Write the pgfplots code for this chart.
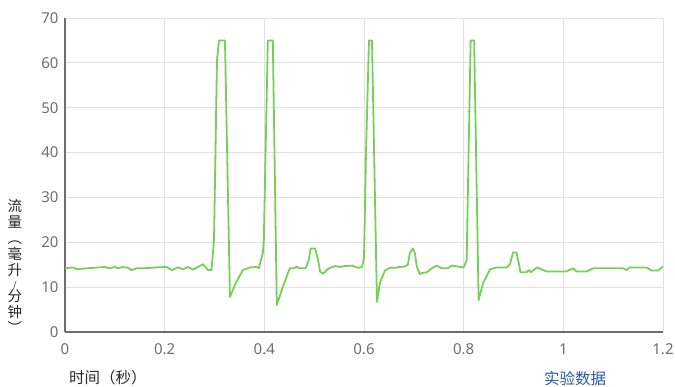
\documentclass[border=0pt]{standalone}
\usepackage{pgfplots}
\pgfplotsset{compat=1.18}
\usepackage{fontspec}
\setmainfont{Noto Sans}
\newfontfamily\cjk{Noto Sans CJK SC}
\definecolor{linegreen}{RGB}{118,208,88}
\definecolor{gridgray}{RGB}{224,224,224}
\definecolor{axisgray}{RGB}{110,110,110}
\definecolor{ticktext}{RGB}{110,110,110}
\definecolor{labtext}{RGB}{40,40,40}
\definecolor{legblue}{RGB}{40,90,170}
\begin{document}
\begin{tikzpicture}[x=1pt,y=1pt]
\useasboundingbox (0,0) rectangle (675,387);
\begin{axis}[
  at={(65pt,55pt)}, anchor=south west,
  scale only axis, width=598pt, height=314pt,
  xmin=0, xmax=1.2, ymin=0, ymax=70,
  axis x line*=bottom, axis y line*=left,
  axis line style={axisgray, line width=1.2pt, -},
  xtick={0,0.2,0.4,0.6,0.8,1,1.2},
  xticklabels={0,0.2,0.4,0.6,0.8,1,1.2},
  ytick={0,10,20,30,40,50,60,70},
  major tick length=0pt,
  grid=major,
  major grid style={gridgray, line width=0.8pt},
  tick label style={font=\fontsize{15}{17}\selectfont, text=ticktext},
  /pgf/number format/assume math mode=true,
  xticklabel style={yshift=-8pt},
  yticklabel style={xshift=-3pt},
  clip=false,
]
\addplot[linegreen, line width=1.8pt, line join=round] coordinates {
(0.000,14.2)(0.017,14.4)(0.023,14.0)(0.056,14.3)(0.080,14.5)(0.090,14.2)
(0.100,14.5)(0.106,14.2)(0.116,14.5)(0.126,14.3)(0.134,13.8)(0.144,14.2)
(0.156,14.2)(0.184,14.4)(0.204,14.5)(0.214,13.8)(0.227,14.4)(0.237,14.0)
(0.247,14.5)(0.257,13.9)(0.277,15.1)(0.287,13.8)(0.294,13.8)(0.299,20.5)
(0.305,60.6)(0.309,65)(0.321,65)(0.331,7.8)(0.343,11)(0.357,13.8)
(0.371,14.4)(0.385,14.5)(0.389,14.2)(0.397,17.6)(0.399,20.5)(0.407,65)
(0.417,65)(0.425,6)(0.437,10)(0.451,14.2)(0.459,14.2)(0.465,14.6)
(0.469,14.2)(0.483,14.2)(0.489,16)(0.493,18.6)(0.502,18.6)(0.508,16)
(0.512,13.4)(0.518,13)(0.526,13.9)(0.532,14.3)(0.542,14.7)(0.552,14.5)
(0.562,14.7)(0.576,14.8)(0.588,14.3)(0.596,14.5)(0.600,16.5)(0.604,40)
(0.610,65)(0.616,65)(0.626,6.7)(0.632,11)(0.642,13.7)(0.652,14.3)
(0.662,14.3)(0.672,14.5)(0.682,14.6)(0.688,15)(0.692,17.6)(0.698,18.6)
(0.702,17.6)(0.706,14.6)(0.712,12.9)(0.718,13.2)(0.726,13.3)(0.736,14.2)
(0.746,14.8)(0.756,14.2)(0.768,14.2)(0.776,14.8)(0.788,14.6)(0.800,14.4)
(0.806,16)(0.814,65)(0.821,65)(0.830,7.1)(0.839,10.9)(0.853,14.0)
(0.866,14.4)(0.886,14.4)(0.893,15.1)(0.899,17.7)(0.906,17.7)(0.911,15.1)
(0.914,13.3)(0.926,13.3)(0.931,13.8)(0.935,13.3)(0.947,14.4)(0.966,13.5)
(1.006,13.5)(1.020,14.2)(1.026,13.5)(1.047,13.5)(1.060,14.2)(1.120,14.2)
(1.127,13.8)(1.133,14.4)(1.167,14.4)(1.177,13.7)(1.190,13.7)(1.200,14.6)
};
\end{axis}
\node[anchor=west, text=labtext, font=\cjk\fontsize{15.5}{17}\selectfont, inner sep=0pt] at (69,9) {时间（秒）};
\node[text=legblue, font=\cjk\fontsize{15.5}{17}\selectfont, inner sep=0pt] at (575,8) {实验数据};
\node[text=labtext, font=\cjk\fontsize{14.5}{16}\selectfont, align=center, inner sep=0pt] at (15,121) {流\\量\\︵\\毫\\升\\[-3pt]{\fontsize{9}{9}\selectfont /}\\[-3pt]分\\钟\\︶};
\end{tikzpicture}
\end{document}
